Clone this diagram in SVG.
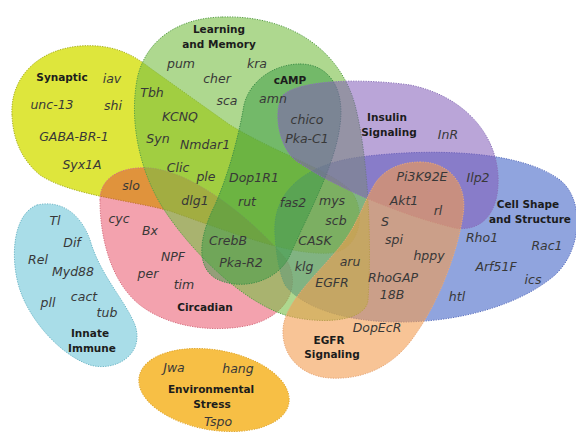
<svg xmlns="http://www.w3.org/2000/svg" width="576" height="432" viewBox="0 0 576 432">
<style>
.g{font-family:"DejaVu Sans",Verdana,sans-serif;font-style:italic;font-size:12.5px;fill:#383838;text-anchor:middle}
.l{font-family:"DejaVu Sans",Verdana,sans-serif;font-weight:bold;font-size:10.5px;fill:#1c1c1c;text-anchor:middle}
.s{stroke-width:1;stroke-dasharray:1.3 1.2}
</style>
<rect width="576" height="432" fill="#ffffff"/>
<g id="synaptic">
<path class="s" d="M12,115 C10,80 35,50 80,46 C110,44 130,52 150,68 L230,125 C280,155 330,170 350,190 C368,210 360,252 330,253 C290,256 230,232 170,211 C130,200 70,195 40,175 C22,160 13,140 12,115 Z" fill="#d8e21a" fill-opacity="0.85" stroke="#a9b020"/>
<text class="l" x="62" y="81">Synaptic</text>
</g>
<g id="circadian">
<path class="s" d="M100,200 C100,178 120,166 150,168 C195,172 255,222 285,258 C302,282 290,315 250,325 C215,333 170,328 140,305 C112,283 100,240 100,200 Z" fill="#e2213e" fill-opacity="0.42" stroke="#d87080"/>
<text class="l" x="205" y="311">Circadian</text>
</g>
<g id="cell-shape">
<path class="s" d="M275,235 C272,195 300,165 360,157 C430,148 520,150 560,180 C585,200 582,250 555,275 C520,305 460,322 400,322 C340,322 300,305 285,285 C278,270 276,250 275,235 Z" fill="#4667c8" fill-opacity="0.6" stroke="#5a70c0"/>
<text class="l" x="528" y="208">Cell Shape</text>
<text class="l" x="530" y="223">and Structure</text>
</g>
<g id="learning-memory">
<path class="s" d="M222,17 C290,15 340,50 355,105 C368,155 372,240 368,300 C366,322 320,325 285,315 C240,300 190,250 163,208 C140,172 128,120 138,75 C148,38 180,18 222,17 Z" fill="#78be44" fill-opacity="0.6" stroke="#5aa048"/>
<text class="l" x="219" y="33">Learning</text>
<text class="l" x="219" y="48">and Memory</text>
</g>
<g id="camp">
<path class="s" d="M300,64 C330,64 345,90 340,125 C335,165 310,210 290,255 C278,282 240,292 215,278 C195,265 200,235 215,205 C228,175 238,140 244,105 C250,80 275,64 300,64 Z" fill="#389a43" fill-opacity="0.5" stroke="#3f8f48"/>
<text class="l" x="290" y="84">cAMP</text>
</g>
<g id="insulin">
<path class="s" d="M283,95 C300,80 360,78 410,85 C460,95 495,130 498,175 C500,215 480,232 455,228 C400,215 330,185 295,160 C278,145 273,110 283,95 Z" fill="#825bb8" fill-opacity="0.55" stroke="#8a70b8"/>
<text class="l" x="387" y="121">Insulin</text>
<text class="l" x="389" y="136">Signaling</text>
</g>
<g id="egfr">
<path class="s" d="M420,162 C450,162 468,185 463,215 C458,250 440,300 415,335 C395,365 365,380 330,378 C300,376 282,355 283,330 C284,300 325,268 345,240 C358,222 365,200 373,187 C382,170 400,162 420,162 Z" fill="#f39d50" fill-opacity="0.6" stroke="#e8a878"/>
<text class="l" x="329" y="344">EGFR</text>
<text class="l" x="332" y="358">Signaling</text>
</g>
<g id="innate-immune">
<path class="s" d="M37,205 C60,200 80,212 90,240 C100,275 125,300 135,325 C145,355 115,372 90,365 C60,355 30,320 20,290 C10,260 12,215 37,205 Z" fill="#a9dde8" stroke="#70b8c8"/>
<text class="l" x="90" y="337">Innate</text>
<text class="l" x="92" y="352">Immune</text>
</g>
<g id="environmental-stress">
<ellipse class="s" cx="214" cy="390" rx="76" ry="40" transform="rotate(10 214 390)" fill="#f7bf45" stroke="#e0a830"/>
<text class="l" x="211" y="393">Environmental</text>
<text class="l" x="212" y="408">Stress</text>
</g>
<g id="genes">
<text class="g" x="181" y="68">pum</text>
<text class="g" x="257" y="68">kra</text>
<text class="g" x="217" y="83">cher</text>
<text class="g" x="227" y="105">sca</text>
<text class="g" x="273" y="103">amn</text>
<text class="g" x="112" y="83">iav</text>
<text class="g" x="52" y="109">unc-13</text>
<text class="g" x="113" y="110">shi</text>
<text class="g" x="152" y="97">Tbh</text>
<text class="g" x="180" y="121">KCNQ</text>
<text class="g" x="74" y="141">GABA-BR-1</text>
<text class="g" x="158" y="143">Syn</text>
<text class="g" x="205" y="149">Nmdar1</text>
<text class="g" x="82" y="169">Syx1A</text>
<text class="g" x="178" y="172">Clic</text>
<text class="g" x="206" y="181">ple</text>
<text class="g" x="254" y="182">Dop1R1</text>
<text class="g" x="131" y="190">slo</text>
<text class="g" x="195" y="205">dlg1</text>
<text class="g" x="247" y="206">rut</text>
<text class="g" x="307" y="124">chico</text>
<text class="g" x="307" y="143">Pka-C1</text>
<text class="g" x="448" y="139">InR</text>
<text class="g" x="422" y="181">Pi3K92E</text>
<text class="g" x="478" y="182">Ilp2</text>
<text class="g" x="293" y="207">fas2</text>
<text class="g" x="332" y="205">mys</text>
<text class="g" x="404" y="205">Akt1</text>
<text class="g" x="438" y="215">rl</text>
<text class="g" x="336" y="225">scb</text>
<text class="g" x="385" y="226">S</text>
<text class="g" x="315" y="245">CASK</text>
<text class="g" x="394" y="244">spi</text>
<text class="g" x="482" y="242">Rho1</text>
<text class="g" x="547" y="250">Rac1</text>
<text class="g" x="429" y="260">hppy</text>
<text class="g" x="350" y="266">aru</text>
<text class="g" x="304" y="271">klg</text>
<text class="g" x="496" y="271">Arf51F</text>
<text class="g" x="393" y="282">RhoGAP</text>
<text class="g" x="332" y="287">EGFR</text>
<text class="g" x="533" y="284">ics</text>
<text class="g" x="392" y="299">18B</text>
<text class="g" x="457" y="301">htl</text>
<text class="g" x="377" y="332">DopEcR</text>
<text class="g" x="55" y="225">Tl</text>
<text class="g" x="119" y="223">cyc</text>
<text class="g" x="150" y="235">Bx</text>
<text class="g" x="72" y="247">Dif</text>
<text class="g" x="228" y="245">CrebB</text>
<text class="g" x="38" y="264">Rel</text>
<text class="g" x="173" y="261">NPF</text>
<text class="g" x="241" y="267">Pka-R2</text>
<text class="g" x="73" y="276">Myd88</text>
<text class="g" x="148" y="278">per</text>
<text class="g" x="184" y="289">tim</text>
<text class="g" x="84" y="301">cact</text>
<text class="g" x="48" y="307">pll</text>
<text class="g" x="107" y="317">tub</text>
<text class="g" x="174" y="372">Jwa</text>
<text class="g" x="238" y="373">hang</text>
<text class="g" x="218" y="426">Tspo</text>
</g>
</svg>
